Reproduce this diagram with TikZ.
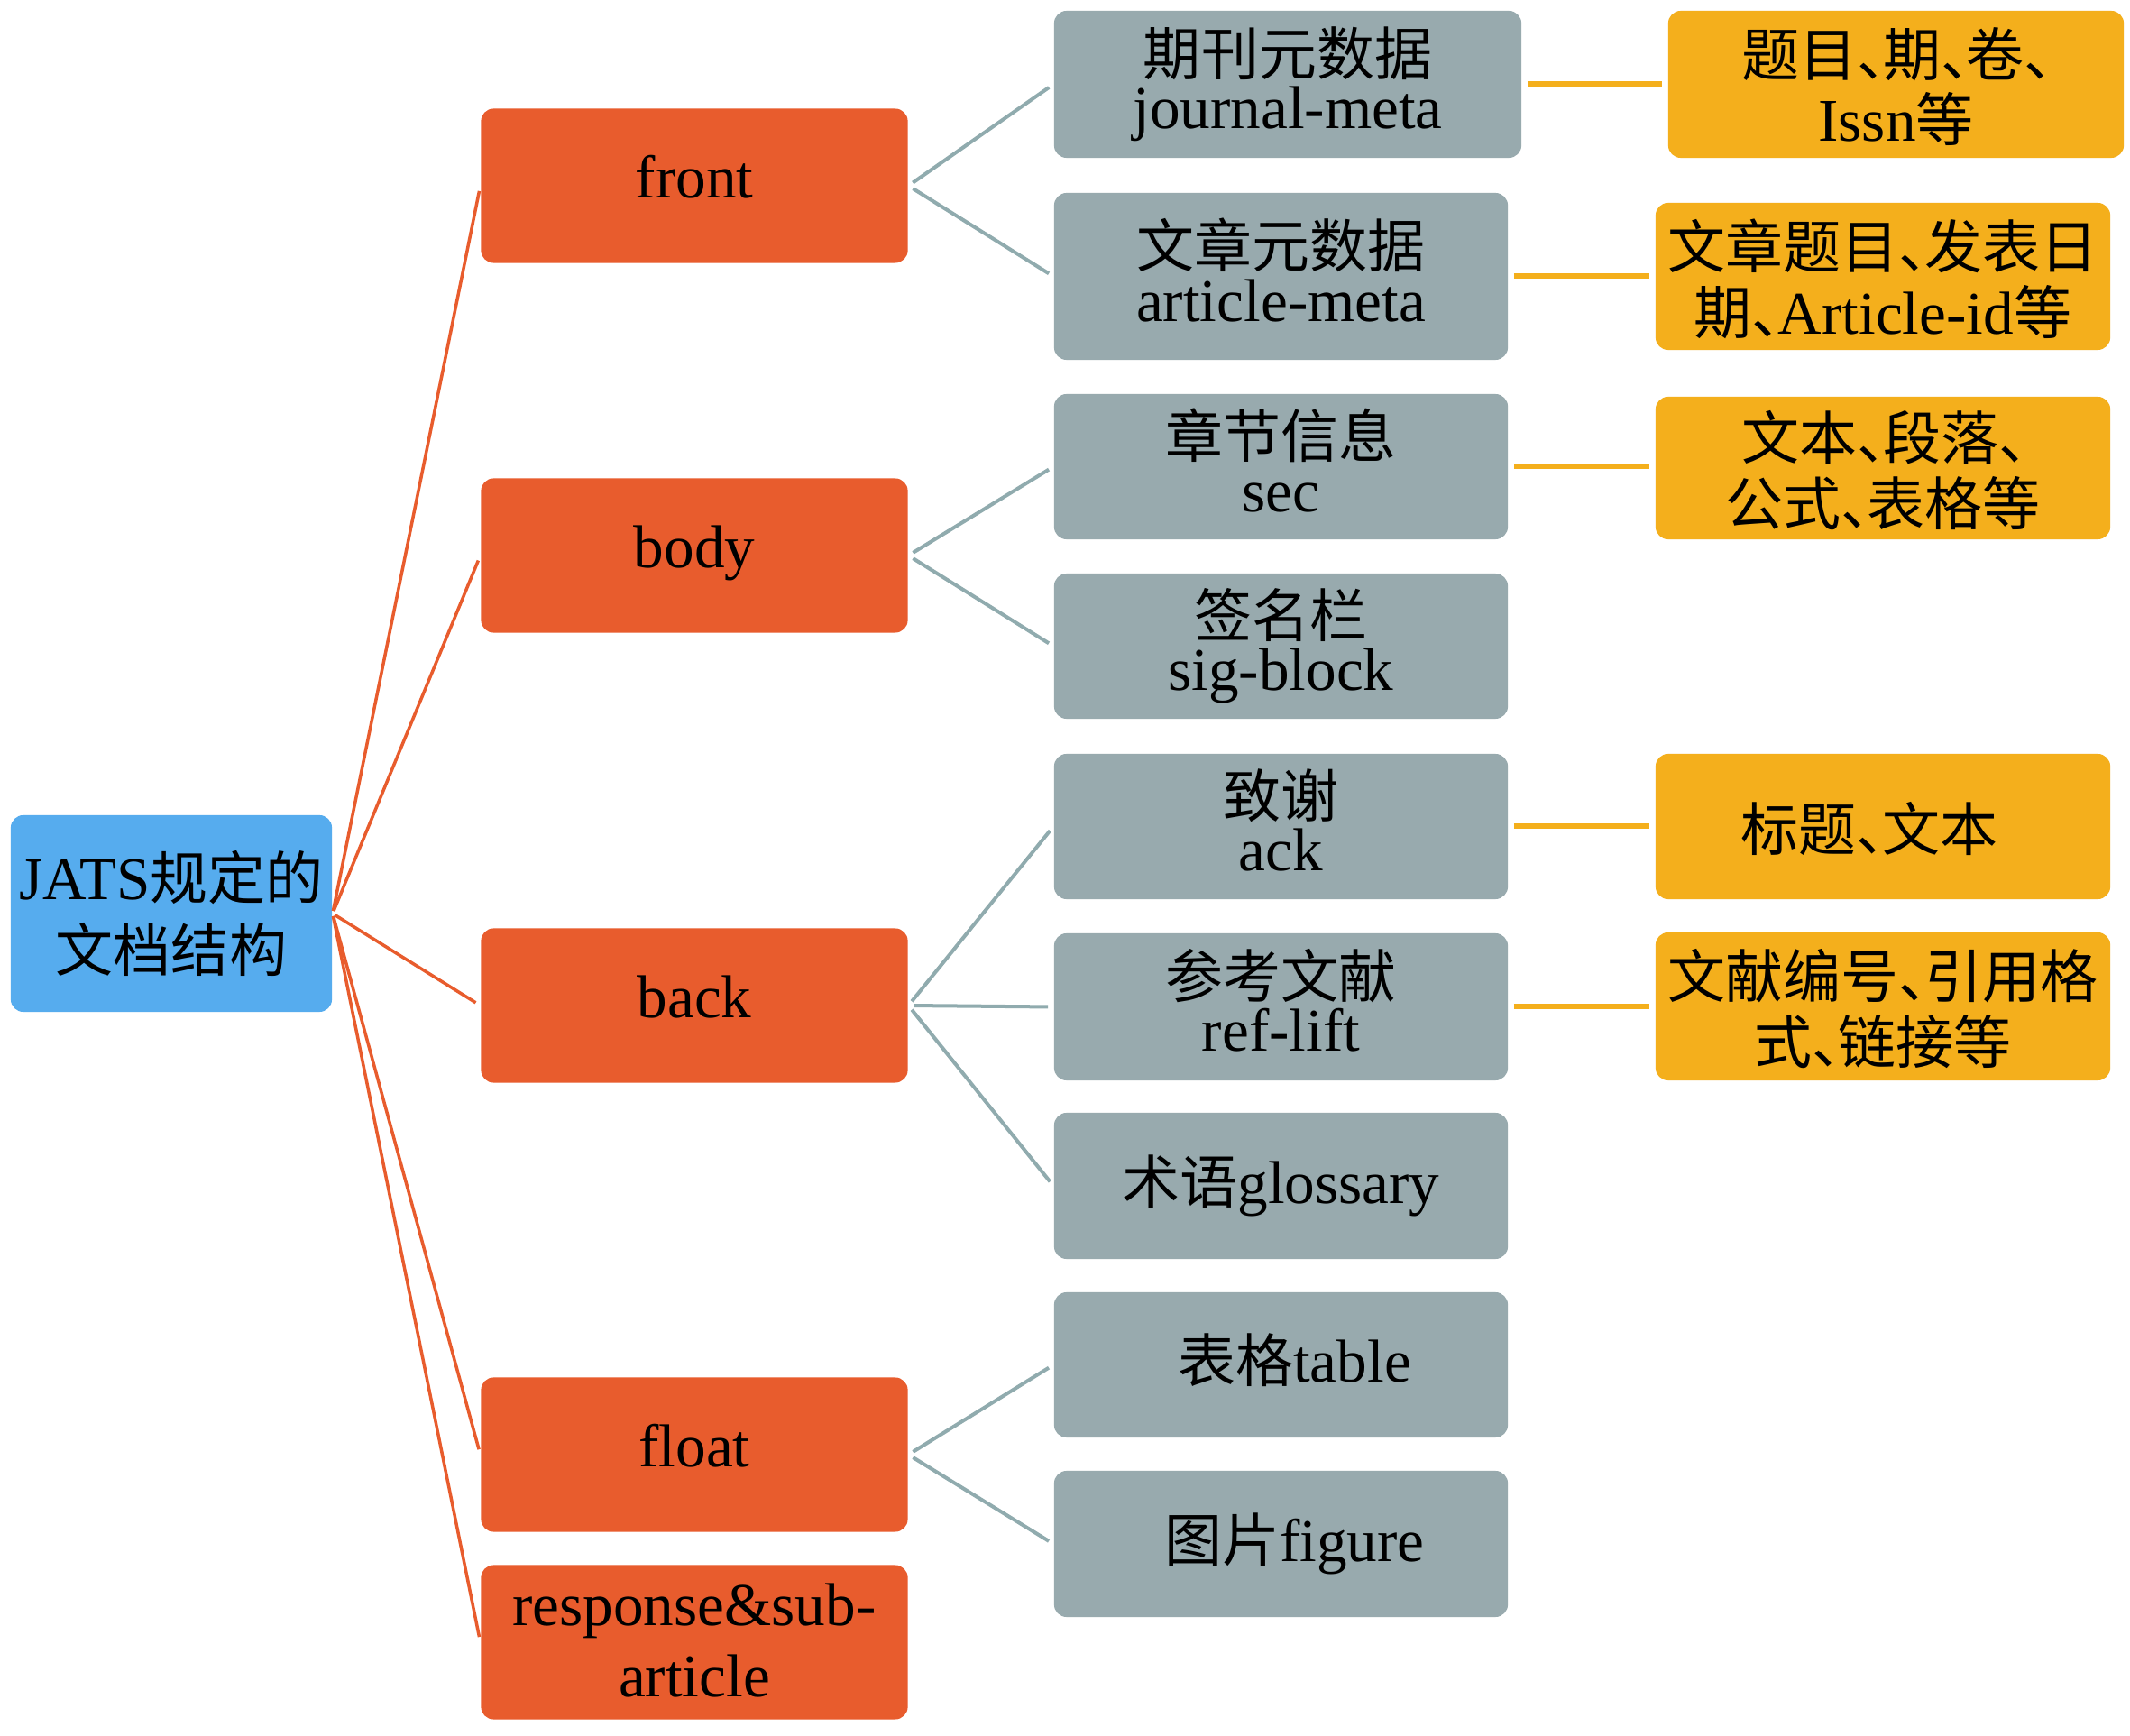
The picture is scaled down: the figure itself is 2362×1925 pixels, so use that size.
\documentclass[tikz,border=0pt]{standalone}
\usepackage{fontspec}
\setmainfont[Scale=1.05]{Liberation Serif}
\newfontfamily\cjk{Noto Sans CJK SC}
\newcommand\dn{\makebox[0.45em][l]{\cjk 、}}
\definecolor{jblue}{HTML}{56ACEE}
\definecolor{jorange}{HTML}{E85C2D}
\definecolor{jgray}{HTML}{98AAAE}
\definecolor{jyellow}{HTML}{F4AF1C}
\definecolor{jgline}{HTML}{90ABAE}
\begin{document}
\begin{tikzpicture}[x=0.01cm,y=-0.01cm,
  box/.style={rounded corners=0.14cm, inner sep=0pt, align=center, text=black},
  rootbox/.style={box, fill=jblue, minimum width=3.56cm, minimum height=2.18cm,
    font=\fontsize{18.2pt}{22.5pt}\selectfont},
  obox/.style={box, fill=jorange, minimum width=4.73cm, minimum height=1.71cm,
    font=\fontsize{18.2pt}{22.5pt}\selectfont, text depth=0.2cm},
  gbox/.style={box, fill=jgray, minimum width=5.03cm, minimum height=1.62cm,
    font=\fontsize{18.2pt}{17pt}\selectfont, text depth=0.15cm},
  ybox/.style={box, fill=jyellow, minimum width=5.04cm, minimum height=1.62cm,
    font=\fontsize{18.2pt}{20.7pt}\selectfont, text depth=0pt},
  rl/.style={draw=jorange, line width=0.035cm, shorten <=0.03cm, shorten >=0.06cm},
  gl/.style={draw=jgline, line width=0.04cm, shorten <=0.06cm, shorten >=0.06cm},
  yl/.style={draw=jyellow, line width=0.06cm, shorten <=0.06cm, shorten >=0.06cm}]
\useasboundingbox[fill=white] (0,0) rectangle (2362,1925);

% root
\node[rootbox] (root) at (190,1013) {JATS{\cjk 规定的}\\{\cjk 文档结构}};

% level 1
\node[obox] (front) at (770,206) {front};
\node[obox] (body) at (770,616) {body};
\node[obox] (back) at (770,1115) {back};
\node[obox] (float) at (770,1613) {float};
\node[obox, text depth=0.05cm] (resp) at (770,1821) {response\&sub-\\article};

% level 2
\node[gbox, minimum width=5.18cm, minimum height=1.63cm] (jm) at (1428,93.5) {{\cjk 期刊元数据}\\journal-meta};
\node[gbox, minimum height=1.85cm] (am) at (1420.5,306.5) {{\cjk 文章元数据}\\article-meta};
\node[gbox, minimum height=1.61cm] (sec) at (1420.5,517.5) {{\cjk 章节信息}\\sec};
\node[gbox, minimum height=1.61cm] (sig) at (1420.5,716.5) {{\cjk 签名栏}\\sig-block};
\node[gbox, minimum height=1.61cm] (ack) at (1420.5,916.5) {{\cjk 致谢}\\ack};
\node[gbox, minimum height=1.63cm] (ref) at (1420.5,1116.5) {{\cjk 参考文献}\\ref-lift};
\node[gbox] (glo) at (1420.5,1315) {{\cjk 术语}glossary};
\node[gbox, minimum height=1.61cm] (tab) at (1420.5,1513.5) {\hspace*{0.3cm}{\cjk 表格}table};
\node[gbox] (fig) at (1420.5,1712) {\hspace*{0.3cm}{\cjk 图片}figure};

% level 3
\node[ybox, minimum width=5.05cm, minimum height=1.63cm] (y1) at (2102.5,93.5) {{\cjk 题目\dn 期\dn 卷\dn}\\Issn{\cjk 等}};
\node[ybox, minimum height=1.63cm] (y2) at (2088,306.5) {{\cjk 文章题目\dn 发表日}\\{\cjk 期\dn}Article-id{\cjk 等}};
\node[ybox, minimum height=1.58cm] (y3) at (2088,519) {{\cjk 文本\dn 段落\dn}\\{\cjk 公式\dn 表格等}};
\node[ybox, minimum height=1.61cm] (y4) at (2088,916.5) {{\cjk 标题\dn 文本}\hspace*{0.3cm}};
\node[ybox, minimum height=1.64cm] (y5) at (2088,1116) {{\cjk 文献编号\dn 引用格}\\{\cjk 式\dn 链接等}};

% connectors root -> level 1
\foreach \n in {front,body,back,float,resp}
  \draw[rl] (root.east) -- (\n.west);

% level 1 -> level 2
\draw[gl] (front.east) -- (jm.west);
\draw[gl] (front.east) -- (am.west);
\draw[gl] (body.east) -- (sec.west);
\draw[gl] (body.east) -- (sig.west);
\draw[gl] (back.east) -- (ack.west);
\draw[gl] (back.east) -- (ref.west);
\draw[gl] (back.east) -- (glo.west);
\draw[gl] (float.east) -- (tab.west);
\draw[gl] (float.east) -- (fig.west);

% level 2 -> level 3
\draw[yl] (jm.east) -- (jm.east -| y1.west);
\draw[yl] (am.east) -- (am.east -| y2.west);
\draw[yl] (sec.east) -- (sec.east -| y3.west);
\draw[yl] (ack.east) -- (ack.east -| y4.west);
\draw[yl] (ref.east) -- (ref.east -| y5.west);
\end{tikzpicture}
\end{document}
